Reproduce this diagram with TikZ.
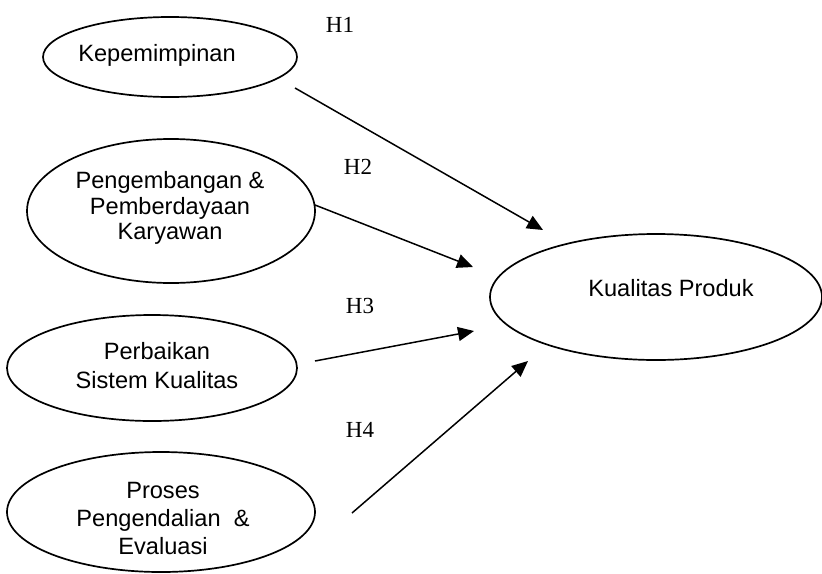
\documentclass[tikz,border=0pt]{standalone}
\usepackage{fontspec}
\setmainfont{Liberation Sans}
\newfontfamily\hfont{Liberation Serif}
\usetikzlibrary{shapes.geometric,arrows.meta}
\tikzset{
  ell/.style={draw, ellipse, line width=0.85pt, inner sep=0pt},
  lbl/.style={align=center, font=\fontsize{11.8}{12.75}\selectfont, inner sep=0pt},
  hyp/.style={font=\hfont\fontsize{11.5}{12}\selectfont, inner sep=0pt},
  arr/.style={line width=0.75pt, -{Triangle[length=8pt,width=7pt]}}
}
\begin{document}
\begin{tikzpicture}[x=0.5pt,y=-0.5pt]
\useasboundingbox (0,0) rectangle (822,573);
% ellipses
\node[ell, minimum width=127pt, minimum height=40pt] (kep) at (170,57) {};
\node[ell, minimum width=144pt, minimum height=72pt] (pen) at (171,211) {};
\node[ell, minimum width=145pt, minimum height=53pt] (per) at (152,368) {};
\node[ell, minimum width=154pt, minimum height=60pt] (pro) at (161,512) {};
\node[ell, minimum width=166pt, minimum height=63pt] (kua) at (656,297) {};
% texts
\node[lbl] (kept) at (157,55) {Kepemimpinan};
\node[lbl] (pent) at (170,208) {Pengembangan \&\\Pemberdayaan\\Karyawan};
\node[lbl, font=\fontsize{11.8}{14.5}\selectfont] (pert) at (157,366) {Perbaikan\\Sistem Kualitas};
\node[lbl, font=\fontsize{11.8}{14}\selectfont] (prot) at (163,518) {Proses\\Pengendalian \ \&\\Evaluasi};
\node[lbl] (kuat) at (671,288) {Kualitas Produk};
% hypothesis labels
\node[hyp] (h1) at (340,25) {H1};
\node[hyp] (h2) at (358,167) {H2};
\node[hyp] (h3) at (360,306) {H3};
\node[hyp] (h4) at (360,430) {H4};
% arrow ends
\coordinate (s1) at (295,88);  \coordinate (t1) at (543,230);
\coordinate (s2) at (315,205); \coordinate (t2) at (473,267);
\coordinate (s3) at (315,361); \coordinate (t3) at (474,331);
\coordinate (s4) at (352,513); \coordinate (t4) at (528,361);
\draw[arr] (s1) -- (t1);
\draw[arr] (s2) -- (t2);
\draw[arr] (s3) -- (t3);
\draw[arr] (s4) -- (t4);
\end{tikzpicture}
\end{document}
